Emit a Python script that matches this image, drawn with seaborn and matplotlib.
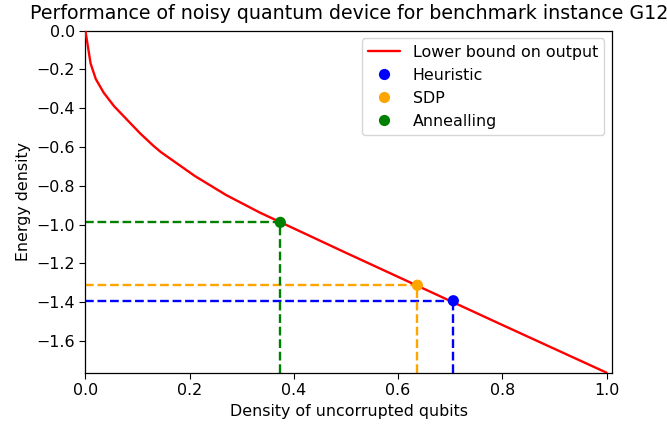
import matplotlib
matplotlib.use("Agg")
import matplotlib.pyplot as plt
import numpy as np
import pandas as pd
import seaborn as sns

# lower bound curve
density = [0.0, 0.01, 0.02, 0.035, 0.055, 0.08, 0.105, 0.13, 0.145, 0.21,
           0.27, 0.335, 0.375, 0.5, 0.6, 0.7, 0.8, 0.9, 1.0]
energy = [0.0, -0.17, -0.25, -0.32, -0.39, -0.46, -0.53, -0.593, -0.627, -0.75,
          -0.848, -0.939, -0.989, -1.146, -1.270, -1.394, -1.518, -1.641, -1.764]

methods = ["Heuristic", "SDP", "Annealling"]
method_density = [0.706, 0.637, 0.374]
method_energy = [-1.393, -1.313, -0.989]
method_colors = ["blue", "orange", "green"]

sns.set_style("ticks")
plt.rcParams.update({
    "font.family": ["DejaVu Sans"],
    "font.size": 11.4,
    "axes.edgecolor": "black",
    "axes.linewidth": 0.9,
    "xtick.color": "black",
    "ytick.color": "black",
    "xtick.major.size": 4,
    "ytick.major.size": 4,
    "text.color": "black",
    "axes.labelcolor": "black",
})

fig = plt.figure(figsize=(6.67, 4.24), dpi=100)
ax = fig.add_axes([0.128, 0.121, 0.790, 0.807])

curve = pd.DataFrame({"x": density, "y": energy})
sns.lineplot(data=curve, x="x", y="y", color="red", linewidth=1.7,
             label="Lower bound on output", ax=ax, zorder=3)

ymin = min(energy)
for name, xv, yv, c in zip(methods, method_density, method_energy, method_colors):
    ax.plot([0, xv], [yv, yv], "--", color=c, linewidth=1.7, zorder=2)
    ax.plot([xv, xv], [ymin, yv], "--", color=c, linewidth=1.7, zorder=2)

pts = pd.DataFrame({"x": method_density, "y": method_energy, "method": methods})
sns.scatterplot(data=pts, x="x", y="y", hue="method", palette=method_colors,
                hue_order=methods, s=65, edgecolor="none", ax=ax, zorder=4)

ax.set_xlim(0, 1.011)
ax.set_ylim(ymin, 0)
ax.set_xticks([0.0, 0.2, 0.4, 0.6, 0.8, 1.0])
ax.set_yticks(np.arange(-1.6, 0.01, 0.2))
ax.set_xlabel("Density of uncorrupted qubits")
ax.set_ylabel("Energy density")
ax.set_title("Performance of noisy quantum device for benchmark instance G12",
             fontsize=13.7, pad=8)

handles, labels = ax.get_legend_handles_labels()
ax.legend(handles, labels, loc="upper right", frameon=True, fontsize=11.4,
          title=None, edgecolor="#cccccc", framealpha=0.8)

fig.savefig("out.png", dpi=100)
